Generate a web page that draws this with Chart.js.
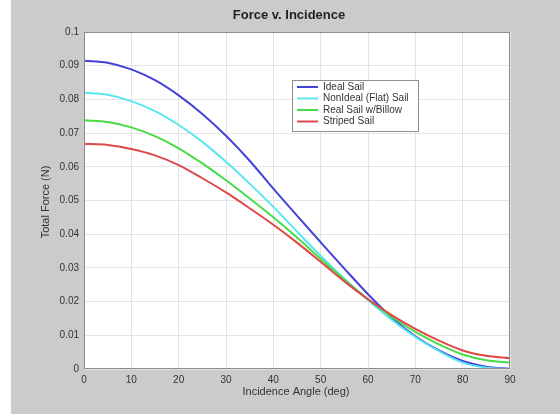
<!DOCTYPE html>
<html>
<head>
<meta charset="utf-8">
<script src="https://cdn.jsdelivr.net/npm/chart.js@4/dist/chart.umd.min.js"></script>
<style>
  html, body { margin: 0; padding: 0; background: #fff; }
  #wrap { position: absolute; left: 11px; top: 0; width: 549px; height: 414px; background: #cbcbcb; }
</style>
</head>
<body>
<div id="wrap"><canvas id="forceChart" width="549" height="414"></canvas></div>
<script>
// incidence angle (deg)
const angles = [0, 5, 10, 15, 20, 25, 30, 35, 40, 45, 50, 55, 60, 65, 70, 75, 80, 85, 90];

// total force (N)
const idealSail   = [0.0915, 0.0909, 0.0889, 0.0857, 0.0812, 0.0757, 0.0692, 0.0618, 0.0535, 0.0455, 0.0376, 0.0298, 0.0222, 0.0153, 0.0097, 0.0055, 0.0024, 0.0007, 0.0000];
const flatSail    = [0.0820, 0.0814, 0.0795, 0.0765, 0.0724, 0.0674, 0.0615, 0.0550, 0.0481, 0.0408, 0.0336, 0.0268, 0.0205, 0.0146, 0.0095, 0.0053, 0.0019, 0.0004, 0.0000];
const billowSail  = [0.0738, 0.0733, 0.0717, 0.0691, 0.0655, 0.0610, 0.0560, 0.0506, 0.0450, 0.0390, 0.0327, 0.0265, 0.0207, 0.0155, 0.0110, 0.0073, 0.0043, 0.0026, 0.0019];
const stripedSail = [0.0668, 0.0665, 0.0653, 0.0634, 0.0605, 0.0566, 0.0524, 0.0477, 0.0428, 0.0375, 0.0318, 0.0260, 0.0207, 0.0160, 0.0119, 0.0084, 0.0055, 0.0039, 0.0032];

const seriesNames  = ['Ideal Sail', 'NonIdeal (Flat) Sail', 'Real Sail w/Billow', 'Striped Sail'];
const seriesColors = ['#4343d8', '#5ae6ee', '#47dc47', '#e04848'];

const xTicks = [0, 10, 20, 30, 40, 50, 60, 70, 80, 90];
const yTicks = [0, 0.01, 0.02, 0.03, 0.04, 0.05, 0.06, 0.07, 0.08, 0.09, 0.1];

const FONT = 'Liberation Sans, Arial, sans-serif';

const toPoints = (vals) => vals.map((v, i) => ({ x: angles[i], y: v }));

// white plot box + frame, then title / axis labels in the grey margin
const frameAndTextPlugin = {
  id: 'frameAndText',
  beforeDraw(ci) {
    const { ctx, chartArea: ca } = ci;
    ctx.save();
    ctx.fillStyle = '#ffffff';
    ctx.fillRect(ca.left, ca.top, ca.right - ca.left, ca.bottom - ca.top);
    ctx.restore();
  },
  afterDraw(ci) {
    const { ctx, chartArea: ca } = ci;
    ctx.save();
    ctx.strokeStyle = '#8c8c8c';
    ctx.lineWidth = 1;
    ctx.strokeRect(ca.left + 0.5, ca.top + 0.5, ca.right - ca.left - 1, ca.bottom - ca.top - 1);

    ctx.fillStyle = '#222';
    ctx.textAlign = 'center';
    ctx.textBaseline = 'middle';
    ctx.font = 'bold 13px ' + FONT;
    ctx.fillText('Force v. Incidence', 278, 15);

    ctx.fillStyle = '#333';
    ctx.font = '11px ' + FONT;
    ctx.fillText('Incidence Angle (deg)', 285, 392);

    ctx.translate(35, 202);
    ctx.rotate(-Math.PI / 2);
    ctx.fillText('Total Force (N)', 0, 0);
    ctx.restore();
  }
};

// legend box inside the plot
const boxLegendPlugin = {
  id: 'boxLegend',
  afterDatasetsDraw(ci) {
    const ctx = ci.ctx;
    const left = 281, top = 80, w = 126, h = 51;
    ctx.save();
    ctx.fillStyle = '#ffffff';
    ctx.fillRect(left, top, w, h);
    ctx.strokeStyle = '#8c8c8c';
    ctx.lineWidth = 1;
    ctx.strokeRect(left + 0.5, top + 0.5, w, h);
    ctx.font = '10px ' + FONT;
    ctx.textAlign = 'left';
    ctx.textBaseline = 'middle';
    seriesNames.forEach((name, i) => {
      const y = top + 7 + i * 11.5;
      ctx.strokeStyle = seriesColors[i];
      ctx.lineWidth = 2;
      ctx.beginPath();
      ctx.moveTo(left + 5, y);
      ctx.lineTo(left + 26, y);
      ctx.stroke();
      ctx.fillStyle = '#333';
      ctx.fillText(name, left + 31, y);
    });
    ctx.restore();
  }
};

const datasets = [idealSail, flatSail, billowSail, stripedSail].map((vals, i) => ({
  label: seriesNames[i],
  data: toPoints(vals),
  borderColor: seriesColors[i],
  backgroundColor: seriesColors[i],
  borderWidth: 2,
  pointRadius: 0,
  tension: 0.4,
  cubicInterpolationMode: 'monotone',
  fill: false
}));
// draw red first so blue ends on top like the original
datasets.reverse();

new Chart(document.getElementById('forceChart').getContext('2d'), {
  type: 'line',
  data: { datasets },
  options: {
    responsive: false,
    animation: false,
    layout: { padding: { left: 0, right: 50, top: 32, bottom: 0 } },
    scales: {
      x: {
        type: 'linear',
        min: 0,
        max: 90,
        afterBuildTicks: (s) => { s.ticks = xTicks.map(v => ({ value: v })); },
        afterFit: (s) => { s.height = 45; },
        grid: { color: '#e4e4e4', drawTicks: false },
        border: { display: false },
        ticks: {
          color: '#333',
          font: { family: FONT, size: 10 },
          padding: 5,
          maxRotation: 0,
          callback: (v) => String(v)
        }
      },
      y: {
        min: 0,
        max: 0.1,
        afterBuildTicks: (s) => { s.ticks = yTicks.map(v => ({ value: v })); },
        afterFit: (s) => { s.width = 73; },
        grid: { color: '#e4e4e4', drawTicks: false },
        border: { display: false },
        ticks: {
          color: '#333',
          font: { family: FONT, size: 10 },
          padding: 5,
          callback: (v) => (v === 0 ? '0' : String(Math.round(v * 100) / 100))
        }
      }
    },
    plugins: { legend: { display: false }, tooltip: { enabled: false }, title: { display: false } }
  },
  plugins: [frameAndTextPlugin, boxLegendPlugin]
});
</script>
</body>
</html>
